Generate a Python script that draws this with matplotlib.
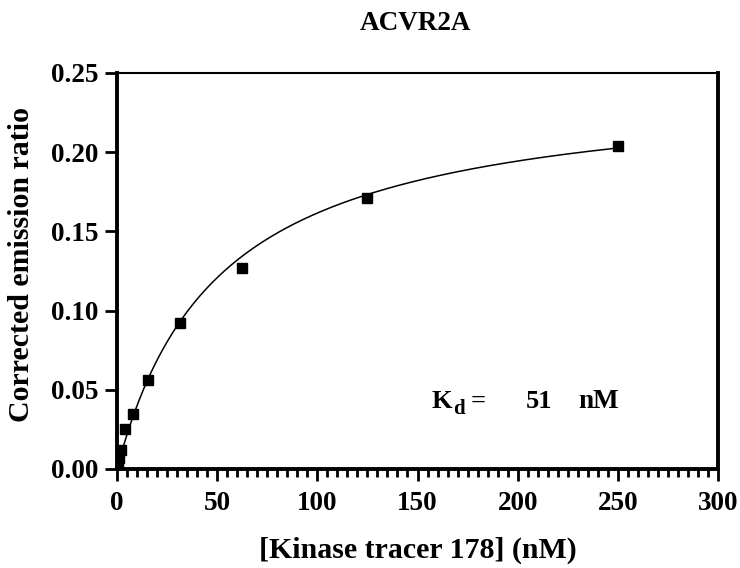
import matplotlib
matplotlib.use("Agg")
import matplotlib.pyplot as plt
import numpy as np
from matplotlib.ticker import MultipleLocator, FormatStrFormatter

plt.rcParams['font.family'] = ['Liberation Serif', 'DejaVu Serif']
plt.rcParams['font.weight'] = 'bold'

# Data
tracer_nM = [250, 125, 62.5, 31.25, 15.6, 7.8, 3.9, 1.95, 0.98, 0.49, 0.24]
emission_ratio = [0.204, 0.171, 0.127, 0.092, 0.056, 0.035, 0.025, 0.012, 0.007, 0.004, 0.002]
KD = 51
BMAX = 0.244
title = "ACVR2A"
xlabel = "[Kinase tracer 178] (nM)"
ylabel = "Corrected emission ratio"

fig = plt.figure(figsize=(7.4, 5.68), dpi=100)
ax = fig.add_axes([117/740, 1 - 469/568, (718-117)/740, (469-73)/568])

xc = np.linspace(0, 250, 400)
ax.plot(xc, BMAX * xc / (KD + xc), color='black', lw=1.1)
ax.plot(tracer_nM, emission_ratio, 's', color='black', markersize=7.5, linestyle='none')

ax.set_xlim(0, 300)
ax.set_ylim(0, 0.25)
ax.xaxis.set_major_locator(MultipleLocator(50))
ax.xaxis.set_minor_locator(MultipleLocator(5))
ax.yaxis.set_major_locator(MultipleLocator(0.05))
ax.yaxis.set_major_formatter(FormatStrFormatter('%.2f'))

for s in ['left', 'bottom', 'right']:
    ax.spines[s].set_linewidth(2.8)
ax.spines['top'].set_linewidth(1.5)

ax.tick_params(axis='both', which='major', direction='out', length=8.6, width=2,
               labelsize=19.5, pad=5)
ax.tick_params(axis='x', which='major', pad=7.5)
ax.tick_params(axis='x', which='minor', direction='out', length=5.8, width=2)
ax.tick_params(axis='y', which='minor', left=False)
for lab in ax.get_xticklabels() + ax.get_yticklabels():
    lab.set_fontweight('bold')

ax.set_xlabel(xlabel, fontsize=21.5, fontweight='bold')
ax.xaxis.set_label_coords(0.5, -(537 - 469) / 396)
ax.set_ylabel(ylabel, fontsize=21.5, fontweight='bold')
ax.yaxis.set_label_coords((35 - 117) / 601, (469 - 264) / 396)

fig.text(415/740, 1 - 30/568, title, fontsize=19.5, fontweight='bold',
         ha='center', va='baseline')

ax.text(157, 0.0385, "K", fontsize=19, fontweight='bold', ha='left', va='baseline')
ax.text(167.6, 0.0347, "d", fontsize=15, fontweight='bold', ha='left', va='baseline')
ax.text(176.5, 0.0385, "=", fontsize=19, fontweight='bold', ha='left', va='baseline')
ax.text(204, 0.0385, "51", fontsize=19, fontweight='bold', ha='left', va='baseline')
ax.text(230, 0.0385, "nM", fontsize=19.5, fontweight='bold', ha='left', va='baseline')

fig.savefig("out.png", dpi=100)
